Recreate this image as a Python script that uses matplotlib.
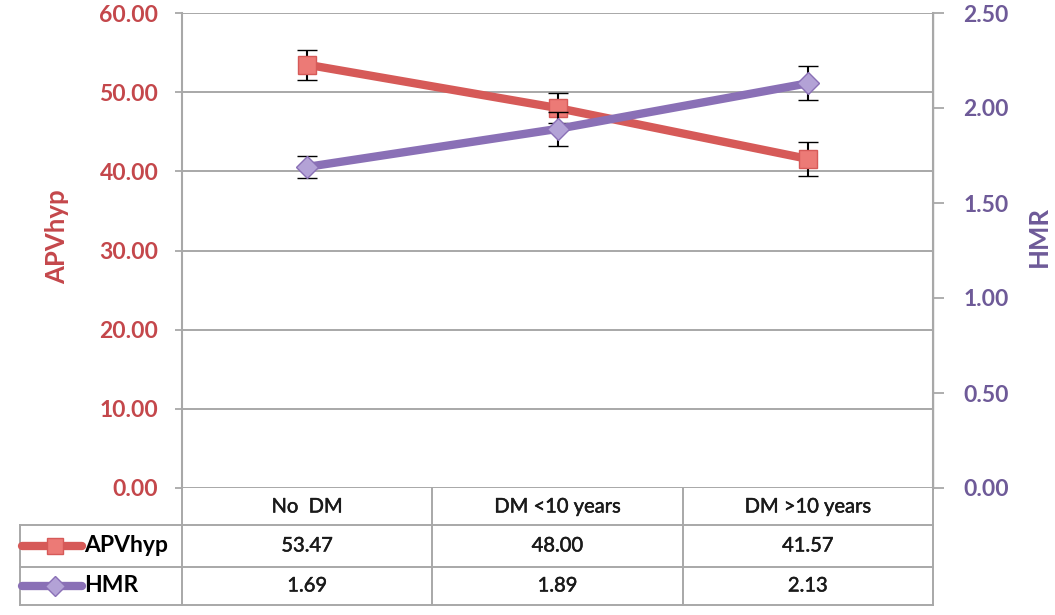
import matplotlib
matplotlib.use("Agg")
import matplotlib.pyplot as plt
import matplotlib.patheffects as pe
from matplotlib.ticker import FormatStrFormatter, MultipleLocator
from matplotlib.transforms import blended_transform_factory

plt.rcParams["font.family"] = ["Lato", "DejaVu Sans"]

# Data
categories = ["No  DM", "DM <10 years", "DM >10 years"]
apvhyp = [53.47, 48.00, 41.57]
apvhyp_err = [1.9, 1.9, 2.1]
hmr = [1.69, 1.89, 2.13]
hmr_err = [0.06, 0.09, 0.09]
apvhyp_labels = ["53.47", "48.00", "41.57"]
hmr_labels = ["1.69", "1.89", "2.13"]

RED_LINE = "#d65a58"
RED_FACE = "#ec7a76"
RED_TEXT = "#c4474b"
PUR_LINE = "#8a70b6"
PUR_FACE = "#b3a2d6"
PUR_TEXT = "#6e5a98"
GRID = "#a8a8a8"

W, H = 1055, 615
fig = plt.figure(figsize=(W / 100, H / 100), dpi=100)
ax = fig.add_axes([182 / W, (H - 488) / H, 751 / W, 475 / H])
ax2 = ax.twinx()

x = list(range(len(categories)))

# Primary axis: APVhyp
ax.set_xlim(-0.5, len(categories) - 0.5)
ax.set_ylim(0, 60)
ax.yaxis.set_major_locator(MultipleLocator(10))
ax.yaxis.set_major_formatter(FormatStrFormatter("%.2f"))
ax.grid(axis="y", color=GRID, lw=1.4)
ax.set_axisbelow(True)
ax.set_xticks([])
for s in ["top", "bottom"]:
    ax.spines[s].set_visible(False)
ax.spines["left"].set_color(GRID)
ax.spines["left"].set_linewidth(1.5)
ax.tick_params(axis="y", colors=GRID, length=5, width=1.3, direction="out",
               labelcolor=RED_TEXT, labelsize=16.5, pad=12)
for lab in ax.get_yticklabels():
    lab.set_fontweight("bold")
ax.set_ylabel("APVhyp", color=RED_TEXT, fontsize=18.5, fontweight="bold")
ax.yaxis.label.set(va="center", ha="center", rotation_mode="anchor")
ax.yaxis.set_label_coords(-0.166, 0.53)

ax.errorbar(x, apvhyp, yerr=apvhyp_err, color=RED_LINE, lw=6,
            marker="s", ms=13, mfc=RED_FACE, mec=RED_LINE, mew=1,
            ecolor="black", elinewidth=1.5, capsize=7, capthick=2, zorder=3)

# Secondary axis: HMR
ax2.set_ylim(0, 2.5)
ax2.yaxis.set_major_locator(MultipleLocator(0.5))
ax2.yaxis.set_major_formatter(FormatStrFormatter("%.2f"))
for s in ["top", "bottom", "left"]:
    ax2.spines[s].set_visible(False)
ax2.spines["right"].set_color(GRID)
ax2.spines["right"].set_linewidth(1.5)
ax2.tick_params(axis="y", colors=GRID, length=8, width=1.3, direction="out",
                labelcolor=PUR_TEXT, labelsize=16.5, pad=14)
for lab in ax2.get_yticklabels():
    lab.set_fontweight("bold")
ax2.set_ylabel("HMR", color=PUR_TEXT, fontsize=18.5, fontweight="bold", rotation=90)
ax2.yaxis.label.set(va="center", ha="center", rotation_mode="anchor")
ax2.yaxis.set_label_coords(1.141, 0.53)

ax2.errorbar(x, hmr, yerr=hmr_err, color=PUR_LINE, lw=6,
             marker="D", ms=11, mfc=PUR_FACE, mec=PUR_LINE, mew=1,
             ecolor="black", elinewidth=1.5, capsize=7, capthick=2, zorder=3)

# Data table beneath the plot
tr = blended_transform_factory(ax.transData, ax.transAxes)
px = 751 / 3.0  # pixels per category


def fy(py):
    return (488 - py) / 475


def fx(pxl):
    return -0.5 + (pxl - 182) / px


x_left = fx(20)
x_right = len(categories) - 0.5
row_lines = [fy(525), fy(567), fy(605)]
line_kw = dict(color=GRID, lw=1.4, transform=tr, clip_on=False)

for yy in row_lines:
    ax.plot([x_left, x_right], [yy, yy], **line_kw)
ax.plot([x_left, x_left], [fy(525), fy(605)], **line_kw)
ax.plot([-0.5, -0.5], [0, fy(605)], **line_kw)
ax.plot([x_right, x_right], [0, fy(605)], **line_kw)
for i in range(1, len(categories)):
    ax.plot([i - 0.5, i - 0.5], [0, fy(605)], **line_kw)

y_head, y_apv, y_hmr = fy(507), fy(546), fy(586)
semi = [pe.withStroke(linewidth=0.35, foreground="#1a1a1a")]
text_kw = dict(transform=tr, ha="center", va="center", fontsize=14.5,
               color="#1a1a1a", clip_on=False, path_effects=semi)
for i, c in enumerate(categories):
    ax.text(i, y_head, c, **text_kw)
    ax.text(i, y_apv, apvhyp_labels[i], **text_kw)
    ax.text(i, y_hmr, hmr_labels[i], **text_kw)

# Legend keys in the table's first column
kx0, kx1, kxm = fx(22), fx(82), fx(55)
ax.plot([kx0, kx1], [y_apv, y_apv], color=RED_LINE, lw=6, transform=tr,
        clip_on=False, solid_capstyle="round")
ax.plot([kxm], [y_apv], marker="s", ms=12, mfc=RED_FACE, mec=RED_LINE,
        transform=tr, clip_on=False)
ax.plot([kx0, kx1], [y_hmr, y_hmr], color=PUR_LINE, lw=6, transform=tr,
        clip_on=False, solid_capstyle="round")
ax.plot([kxm], [y_hmr], marker="D", ms=10, mfc=PUR_FACE, mec=PUR_LINE,
        transform=tr, clip_on=False)
ax.text(fx(84), y_apv, "APVhyp", transform=tr, ha="left", va="center",
        fontsize=16.5, fontweight="bold", color="black", clip_on=False)
ax.text(fx(84), y_hmr, "HMR", transform=tr, ha="left", va="center",
        fontsize=16.5, fontweight="bold", color="black", clip_on=False)

fig.savefig("out.png", dpi=100)
